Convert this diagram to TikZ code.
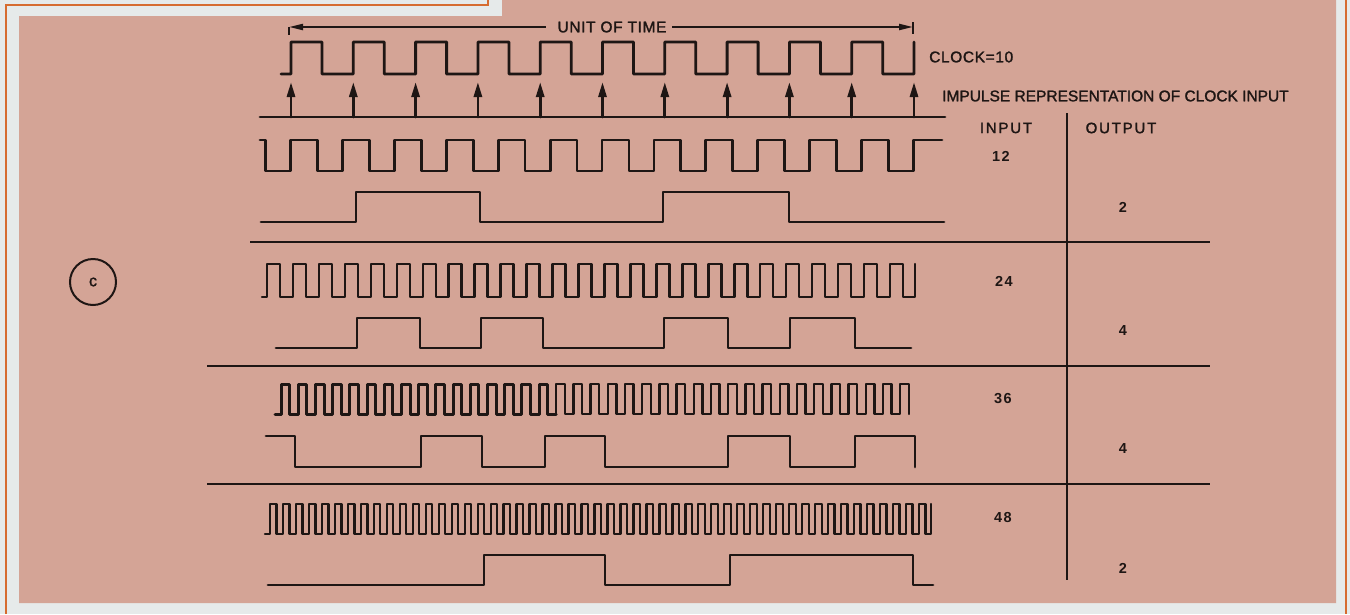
\documentclass[tikz,border=0pt]{standalone}
\usepackage{fontspec}
\setmainfont{Liberation Sans}
\newfontfamily\lab{Liberation Sans}[LetterSpace=4,FakeBold=1.6]
\newfontfamily\labn{Liberation Sans}[FakeBold=1.6]
\newfontfamily\labw{Liberation Sans}[LetterSpace=12,FakeBold=1.6]
\newfontfamily\numf{Liberation Sans}[LetterSpace=10]
\usetikzlibrary{arrows.meta}
\definecolor{paper}{RGB}{230,234,234}
\definecolor{pinkbg}{RGB}{212,164,150}
\definecolor{frameor}{RGB}{214,108,48}
\definecolor{ink}{RGB}{30,22,20}
\begin{document}
\begin{tikzpicture}[x=1pt,y=-1pt,
  wave/.style={ink,line width=2.8pt,line join=round,line cap=round},
  rule/.style={ink,line width=2pt},
  txt/.style={ink,inner sep=0pt,font=\lab\fontsize{15.5}{18}\selectfont},
  txtn/.style={ink,inner sep=0pt,font=\labn\fontsize{15.5}{18}\selectfont},
  head/.style={ink,inner sep=0pt,font=\labw\fontsize{15}{18}\selectfont},
  numlab/.style={ink,inner sep=0pt,font=\numf\bfseries\fontsize{14.5}{18}\selectfont},
  imp/.style={wave,-{Triangle[length=15pt,width=8pt]}}]
% background and frame
\fill[paper] (0,0) rectangle (1350,614);
\useasboundingbox (0,0) rectangle (1350,614);
\fill[pinkbg] (19,16) -- (502,16) -- (502,0) -- (1336,0) -- (1336,603) -- (19,603) -- cycle;
\draw[frameor,line width=2.2pt] (6,614) -- (6,5) -- (488,5) -- (488,0);
\draw[frameor,line width=2.2pt] (1346,0) -- (1346,614);

% unit of time
\node[txt] (uot) at (612,27) {UNIT OF TIME};
\coordinate (uL) at (289,27);
\coordinate (uLm) at (546,27);
\coordinate (uRm) at (672,27);
\coordinate (uR) at (913,27);
\draw[rule,{Triangle[length=14pt,width=6pt]}-] (uL) -- (uLm);
\draw[rule,-{Triangle[length=14pt,width=6pt]}] (uRm) -- (uR);
\draw[rule] (289,27) -- (289,35);
\draw[rule] (913,22) -- (913,34);

% clock
\draw[wave] (281,74) -- (291,74) foreach \k in {0,...,9} { -- ({291+62.3*\k},42) -- ({322+62.3*\k},42) -- ({322+62.3*\k},74) -- ({353.3+62.3*\k},74) } -- (914,42);
\node[txt,anchor=west] (clk) at (929,57) {CLOCK=10};

% impulse representation
\draw[wave] (260,117) -- (945,117);
\foreach \k in {0,...,10} \draw[imp] ({291+62.3*\k},117) -- ({291+62.3*\k},82);
\node[txtn,anchor=west] (impl) at (942,96) {IMPULSE REPRESENTATION OF CLOCK INPUT};

% table
\node[head] (inh) at (1006,128) {INPUT};
\node[head] (outh) at (1121,128) {OUTPUT};
\draw[rule] (1067,113) -- (1067,580);
\draw[rule] (250,242) -- (1210,242);
\draw[rule] (207,366) -- (1210,366);
\draw[rule] (207,484) -- (1210,484);
\node[numlab] (n12) at (1001,156) {12};
\node[numlab] (o2a) at (1123,207) {2};
\node[numlab] (n24) at (1004,281) {24};
\node[numlab] (o4a) at (1123,331) {4};
\node[numlab] (n36) at (1003,399) {36};
\node[numlab] (o4b) at (1123,449) {4};
\node[numlab] (n48) at (1003,517) {48};
\node[numlab] (o2b) at (1123,568) {2};

% circle c
\node[ink,circle,draw,line width=2pt,minimum size=46pt,inner sep=0pt,font=\lab\fontsize{16}{18}\selectfont] (cc) at (93,282) {c};

% row 1: input 12, output 2
\draw[wave] (260,140) -- (265.5,140) -- (265.5,171) foreach \k in {0,...,11} { -- ({290.5+51.92*\k},171) -- ({290.5+51.92*\k},140) -- ({317.4+51.92*\k},140) -- ({317.4+51.92*\k},171) } -- (913.5,171) -- (913.5,140) -- (942,140);
\draw[wave] (261,222) -- (356,222) -- (356,192) -- (480,192) -- (480,222) -- (663,222) -- (663,192) -- (789,192) -- (789,222) -- (944,222);

% row 2: input 24, output 4
\draw[wave,line width=2.5pt] (262,297) foreach \k in {0,...,24} { -- ({267+25.96*\k},297) -- ({267+25.96*\k},264) -- ({280+25.96*\k},264) -- ({280+25.96*\k},297) } -- (915,297) -- (915,264);
\draw[wave] (276,348) -- (357,348) -- (357,318) -- (420,318) -- (420,348) -- (481,348) -- (481,318) -- (543,318) -- (543,348) -- (664,348) -- (664,318) -- (728,318) -- (728,348) -- (790,348) -- (790,318) -- (855,318) -- (855,348) -- (911,348);

% row 3: input 36, output 4
\draw[wave,line width=3pt] (275,414) foreach \k in {0,...,15} { -- ({281+17.2*\k},414) -- ({281+17.2*\k},384) -- ({289.6+17.2*\k},384) -- ({289.6+17.2*\k},414) } -- (556.2,414);
\draw[wave,line width=2.3pt] (556.2,414) foreach \k in {16,...,36} { -- ({281+17.2*\k},414) -- ({281+17.2*\k},384) -- ({289.6+17.2*\k},384) -- ({289.6+17.2*\k},414) };
\draw[wave] (266,436) -- (295,436) -- (295,467) -- (421,467) -- (421,436) -- (482,436) -- (482,467) -- (545,467) -- (545,436) -- (605,436) -- (605,467) -- (728,467) -- (728,436) -- (790,436) -- (790,467) -- (855,467) -- (855,436) -- (915,436) -- (915,467);

% row 4: input 48, output 2
\draw[wave,line width=2.3pt] (265,534) foreach \k in {0,...,50} { -- ({270+12.98*\k},534) -- ({270+12.98*\k},504) -- ({276.5+12.98*\k},504) -- ({276.5+12.98*\k},534) } -- (931,534) -- (931,504);
\draw[wave] (268,585) -- (484,585) -- (484,555) -- (605,555) -- (605,585) -- (730,585) -- (730,555) -- (913,555) -- (913,585) -- (933,585);
\end{tikzpicture}
\end{document}
